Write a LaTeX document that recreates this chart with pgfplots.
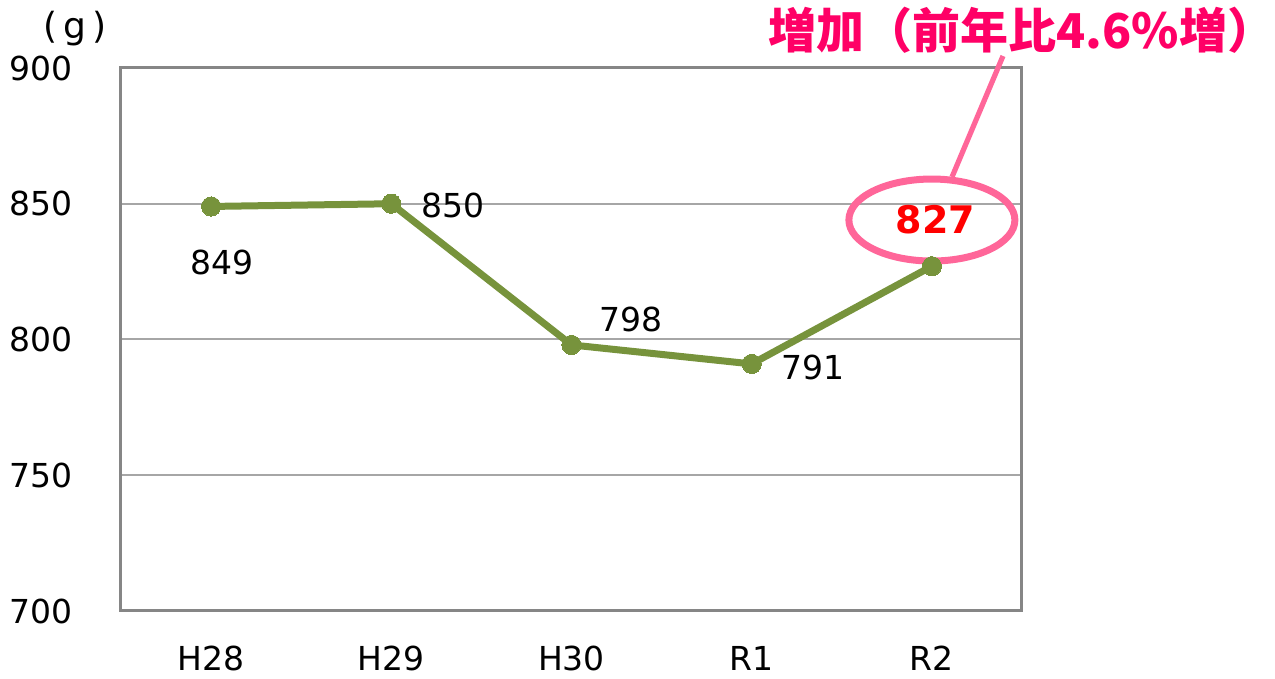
\documentclass[border=0pt]{standalone}
\usepackage{pgfplots}
\pgfplotsset{compat=1.18}
\usepackage{fontspec}
\setmainfont{DejaVu Sans}
\newfontfamily\jp{Noto Sans CJK JP}
\definecolor{lgreen}{HTML}{77933C}
\definecolor{ppink}{HTML}{FF6699}
\definecolor{tpink}{HTML}{FF0066}
\definecolor{gridc}{HTML}{A6A6A6}
\definecolor{boxc}{HTML}{868686}
\begin{document}
\begin{tikzpicture}[x=0.5pt,y=0.5pt]
\useasboundingbox (0,0) rectangle (1275,679);
\begin{axis}[
  at={(60.5pt,34pt)}, anchor=south west,
  scale only axis, width=450.5pt, height=271.5pt,
  xmin=-0.5, xmax=4.5, ymin=700, ymax=900,
  xtick={0,1,2,3,4}, xticklabels={H28,H29,H30,R1,R2},
  ytick={700,750,800,850,900},
  major tick length=0pt,
  ymajorgrids, grid style={gridc, line width=1pt},
  axis line style={boxc, line width=1.5pt},
  /pgf/number format/assume math mode=true,
  tick label style={font=\fontsize{16.5}{18}\selectfont},
  yticklabel style={anchor=east, inner sep=0pt, xshift=-24pt},
  xticklabel style={anchor=north, inner sep=0pt, yshift=-17.5pt},
  clip=false,
]
\addplot[lgreen, line width=3.5pt, line cap=round, line join=round,
  mark=*, mark size=4.8pt, mark options={fill=lgreen, draw=lgreen, line width=0pt}]
  coordinates {(0,849) (1,850) (2,798) (3,791) (4,827)};
\node[font=\fontsize{16.5}{18}\selectfont] at (axis cs:0.06,828.5) {849};
\node[font=\fontsize{16.5}{18}\selectfont] at (axis cs:1.34,849.2) {850};
\node[font=\fontsize{16.5}{18}\selectfont] at (axis cs:2.33,807.2) {798};
\node[font=\fontsize{16.5}{18}\selectfont] at (axis cs:3.34,789.8) {791};
\draw[ppink, line width=3.5pt] (axis cs:4,844) ellipse [x radius=41.5pt, y radius=20.5pt];
\node[font=\bfseries\fontsize{19}{21}\selectfont, text=red] at (axis cs:4.02,844.3) {827};
\end{axis}
\draw[ppink, line width=2.6pt] (952,502) -- (1003,623);
\node[font=\fontsize{18}{20}\selectfont] at (75,650) {(\,g\,)};
\node[font=\jp\bfseries\fontsize{24}{27}\selectfont, text=tpink, inner sep=0pt, anchor=base west] at (768,630) {増加（前年比4.6\%増\makebox[0.5em][l]{）}};
\end{tikzpicture}
\end{document}
